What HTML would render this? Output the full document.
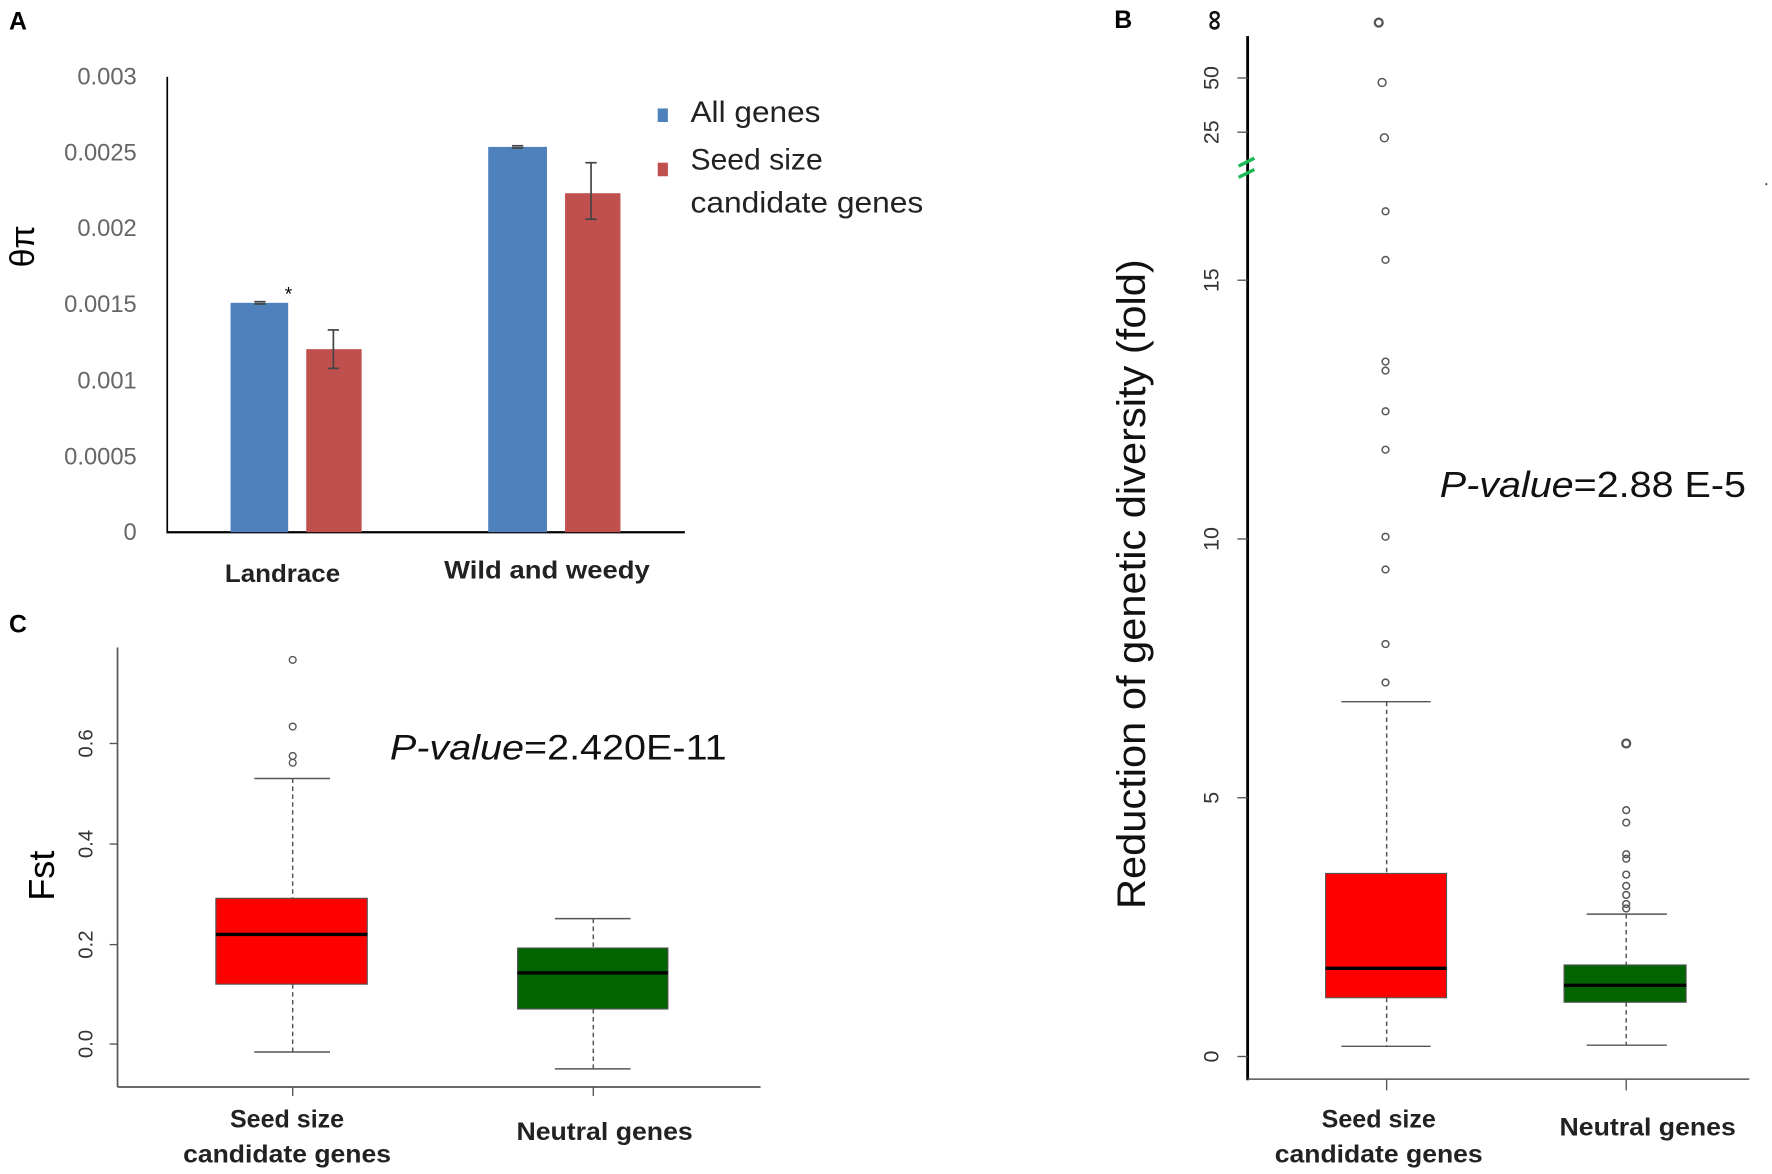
<!DOCTYPE html>
<html><head><meta charset="utf-8"><style>html,body{margin:0;padding:0;background:#fff}svg{display:block}</style></head>
<body>
<svg width="1772" height="1174" viewBox="0 0 1568 1039" preserveAspectRatio="none" xmlns="http://www.w3.org/2000/svg" font-family="Liberation Sans, DejaVu Sans, sans-serif">
<rect width="1568" height="1039" fill="#fff"/>
<!-- Panel A -->
<text x="8" y="26" font-size="22" font-weight="bold">A</text>
<line x1="148" y1="68" x2="148" y2="472" stroke="#000" stroke-width="1.5"/>
<line x1="148" y1="471" x2="606" y2="471" stroke="#000" stroke-width="2"/>
<g font-size="21" fill="#666" text-anchor="end">
<text x="121" y="75">0.003</text><text x="121" y="142">0.0025</text><text x="121" y="209">0.002</text>
<text x="121" y="276">0.0015</text><text x="121" y="344">0.001</text><text x="121" y="411">0.0005</text><text x="121" y="478">0</text>
</g>
<text transform="translate(30,218) rotate(-90)" font-size="30" text-anchor="middle">θπ</text>
<rect x="204" y="268" width="51" height="203" fill="#4f81bd"/>
<rect x="271" y="309" width="49" height="162" fill="#c0504d"/>
<rect x="432" y="130" width="52" height="341" fill="#4f81bd"/>
<rect x="500" y="171" width="49" height="300" fill="#c0504d"/>
<g stroke="#444" stroke-width="1.5">
<line x1="295" y1="292" x2="295" y2="326"/><line x1="290" y1="292" x2="300" y2="292"/><line x1="290" y1="326" x2="300" y2="326"/>
<line x1="523" y1="144" x2="523" y2="194"/><line x1="518" y1="144" x2="528" y2="144"/><line x1="518" y1="194" x2="528" y2="194"/>
<line x1="225" y1="267" x2="235" y2="267"/><line x1="225" y1="269" x2="235" y2="269"/>
<line x1="453" y1="129" x2="463" y2="129"/><line x1="453" y1="131" x2="463" y2="131"/>
</g>
<text x="252" y="266" font-size="17">*</text>
<rect x="582" y="96" width="9" height="12" fill="#4f81bd"/>
<rect x="582" y="144" width="9" height="12" fill="#c0504d"/>
<g font-size="26" fill="#222"><text x="611" y="108" textLength="115" lengthAdjust="spacingAndGlyphs">All genes</text><text x="611" y="150" textLength="117" lengthAdjust="spacingAndGlyphs">Seed size</text><text x="611" y="188" textLength="206" lengthAdjust="spacingAndGlyphs">candidate genes</text></g>
<g font-size="22" font-weight="bold" fill="#222"><text x="199" y="515" textLength="102" lengthAdjust="spacingAndGlyphs">Landrace</text><text x="393" y="512" textLength="182" lengthAdjust="spacingAndGlyphs">Wild and weedy</text></g>
<!-- Panel C -->
<text x="8" y="560" font-size="22" font-weight="bold">C</text>
<line x1="104" y1="573" x2="104" y2="962" stroke="#555" stroke-width="1.5"/>
<line x1="104" y1="962" x2="673" y2="962" stroke="#555" stroke-width="1.5"/>
<g stroke="#555" stroke-width="1.2"><line x1="97" y1="924" x2="104" y2="924"/><line x1="97" y1="836" x2="104" y2="836"/><line x1="97" y1="747" x2="104" y2="747"/><line x1="97" y1="658" x2="104" y2="658"/>
<line x1="259" y1="962" x2="259" y2="970"/><line x1="525" y1="962" x2="525" y2="970"/></g>
<g font-size="18" fill="#333" text-anchor="middle">
<text transform="translate(82,924) rotate(-90)">0.0</text><text transform="translate(82,836) rotate(-90)">0.2</text>
<text transform="translate(82,747) rotate(-90)">0.4</text><text transform="translate(82,658) rotate(-90)">0.6</text></g>
<text transform="translate(48,775) rotate(-90)" font-size="32" text-anchor="middle">Fst</text>
<g stroke="#555" stroke-width="1.3" stroke-dasharray="4,3"><line x1="259" y1="689" x2="259" y2="795"/><line x1="259" y1="871" x2="259" y2="931"/>
<line x1="525" y1="813" x2="525" y2="839"/><line x1="525" y1="893" x2="525" y2="946"/></g>
<g stroke="#555" stroke-width="1.3"><line x1="225" y1="689" x2="292" y2="689"/><line x1="225" y1="931" x2="292" y2="931"/><line x1="491" y1="813" x2="558" y2="813"/><line x1="491" y1="946" x2="558" y2="946"/></g>
<rect x="191" y="795" width="134" height="76" fill="#f00" stroke="#555"/>
<rect x="458" y="839" width="133" height="54" fill="#006400" stroke="#555"/>
<line x1="191" y1="827" x2="325" y2="827" stroke="#000" stroke-width="3"/>
<line x1="458" y1="861" x2="591" y2="861" stroke="#000" stroke-width="3"/>
<g fill="none" stroke="#555" stroke-width="1.2"><circle cx="259" cy="584" r="3"/><circle cx="259" cy="643" r="3"/><circle cx="259" cy="669" r="3"/><circle cx="259" cy="675" r="3"/></g>
<text x="345" y="672" font-size="31" fill="#111" textLength="298" lengthAdjust="spacingAndGlyphs"><tspan font-style="italic">P-value</tspan>=2.420E-11</text>
<g font-size="22" font-weight="bold" fill="#222" text-anchor="middle"><text x="254" y="998" textLength="101" lengthAdjust="spacingAndGlyphs">Seed size</text><text x="254" y="1029" textLength="184" lengthAdjust="spacingAndGlyphs">candidate genes</text><text x="535" y="1009" textLength="156" lengthAdjust="spacingAndGlyphs">Neutral genes</text></g>
<!-- Panel B -->
<text x="986" y="25" font-size="22" font-weight="bold">B</text>
<line x1="1104" y1="32" x2="1104" y2="956" stroke="#000" stroke-width="2.5"/>
<line x1="1104" y1="955" x2="1548" y2="955" stroke="#555" stroke-width="1.3"/>
<g stroke="#555" stroke-width="1.2"><line x1="1095" y1="935" x2="1104" y2="935"/><line x1="1095" y1="706" x2="1104" y2="706"/><line x1="1095" y1="477" x2="1104" y2="477"/><line x1="1095" y1="248" x2="1104" y2="248"/><line x1="1095" y1="117" x2="1104" y2="117"/><line x1="1095" y1="69" x2="1104" y2="69"/>
<line x1="1227" y1="955" x2="1227" y2="965"/><line x1="1439" y1="955" x2="1439" y2="965"/></g>
<g font-size="19" fill="#333" text-anchor="middle">
<text transform="translate(1078,935) rotate(-90)">0</text><text transform="translate(1078,706) rotate(-90)">5</text><text transform="translate(1078,477) rotate(-90)">10</text>
<text transform="translate(1078,248) rotate(-90)">15</text><text transform="translate(1078,117) rotate(-90)">25</text><text transform="translate(1078,69) rotate(-90)">50</text></g>
<text transform="translate(1082,18) rotate(-90)" font-size="26" font-weight="bold" text-anchor="middle" fill="#111">∞</text>
<g stroke="#1db954" stroke-width="3"><line x1="1096" y1="147" x2="1110" y2="140"/><line x1="1096" y1="157" x2="1110" y2="150"/></g>
<text transform="translate(1013,517) rotate(-90)" font-size="35" text-anchor="middle" fill="#111" textLength="575" lengthAdjust="spacingAndGlyphs">Reduction of genetic diversity (fold)</text>
<g stroke="#555" stroke-width="1.3" stroke-dasharray="4,3"><line x1="1227" y1="621" x2="1227" y2="773"/><line x1="1227" y1="883" x2="1227" y2="926"/>
<line x1="1439" y1="809" x2="1439" y2="854"/><line x1="1439" y1="887" x2="1439" y2="925"/></g>
<g stroke="#555" stroke-width="1.3"><line x1="1187" y1="621" x2="1266" y2="621"/><line x1="1187" y1="926" x2="1266" y2="926"/><line x1="1404" y1="809" x2="1475" y2="809"/><line x1="1404" y1="925" x2="1475" y2="925"/></g>
<rect x="1173" y="773" width="107" height="110" fill="#f00" stroke="#555"/>
<rect x="1384" y="854" width="108" height="33" fill="#006400" stroke="#555"/>
<line x1="1173" y1="857" x2="1280" y2="857" stroke="#000" stroke-width="3"/>
<line x1="1384" y1="872" x2="1492" y2="872" stroke="#000" stroke-width="3"/>
<g fill="none" stroke="#555" stroke-width="1.3">
<circle cx="1220" cy="20" r="3.5" stroke-width="2"/><circle cx="1223" cy="73" r="3.5"/><circle cx="1225" cy="122" r="3.5"/><circle cx="1226" cy="187" r="3"/><circle cx="1226" cy="230" r="3"/><circle cx="1226" cy="320" r="3"/><circle cx="1226" cy="328" r="3"/><circle cx="1226" cy="364" r="3"/><circle cx="1226" cy="398" r="3"/><circle cx="1226" cy="475" r="3"/><circle cx="1226" cy="504" r="3"/><circle cx="1226" cy="570" r="3"/><circle cx="1226" cy="604" r="3"/>
<circle cx="1439" cy="658" r="3.5" stroke-width="2"/><circle cx="1439" cy="717" r="3"/><circle cx="1439" cy="728" r="3"/><circle cx="1439" cy="756" r="3"/><circle cx="1439" cy="760" r="3"/><circle cx="1439" cy="774" r="3"/><circle cx="1439" cy="784" r="3"/><circle cx="1439" cy="792" r="3"/><circle cx="1439" cy="800" r="3"/><circle cx="1439" cy="804" r="3"/></g>
<circle cx="1563" cy="163" r="1" fill="#555"/>
<text x="1274" y="440" font-size="32" fill="#111" textLength="271" lengthAdjust="spacingAndGlyphs"><tspan font-style="italic">P-value</tspan>=2.88 E-5</text>
<g font-size="22" font-weight="bold" fill="#222" text-anchor="middle"><text x="1220" y="998" textLength="101" lengthAdjust="spacingAndGlyphs">Seed size</text><text x="1220" y="1029" textLength="184" lengthAdjust="spacingAndGlyphs">candidate genes</text><text x="1458" y="1005" textLength="156" lengthAdjust="spacingAndGlyphs">Neutral genes</text></g>
</svg>
</body></html>
